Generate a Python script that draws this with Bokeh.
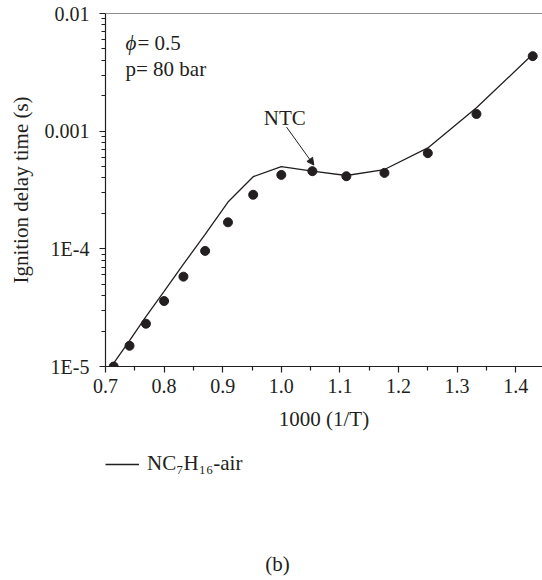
from bokeh.plotting import figure
from bokeh.layouts import column
from bokeh.models import (FixedTicker, PrintfTickFormatter, CustomJSTickFormatter, Span, Label,
                          Arrow, NormalHead, Legend, LegendItem, ColumnDataSource)
from bokeh.embed import file_html
from bokeh.resources import INLINE

# ---- data ----
inv_T = [0.714, 0.741, 0.769, 0.800, 0.833, 0.870, 0.909, 0.952, 1.000, 1.053, 1.111, 1.176, 1.250, 1.333, 1.429]
exp_tau = [1.0e-5, 1.5e-5, 2.31e-5, 3.6e-5, 5.8e-5, 9.6e-5, 1.68e-4, 2.88e-4, 4.25e-4, 4.57e-4, 4.14e-4,
           4.42e-4, 6.5e-4, 1.40e-3, 4.34e-3]
model_tau = [1.07e-5, 1.66e-5, 2.65e-5, 4.35e-5, 7.4e-5, 1.33e-4, 2.5e-4, 4.1e-4, 5.0e-4, 4.57e-4, 4.2e-4,
             4.72e-4, 7.2e-4, 1.58e-3, 4.5e-3]
x_ticks = [0.7, 0.8, 0.9, 1.0, 1.1, 1.2, 1.3, 1.4]
x_minor_ticks = [0.75, 0.85, 0.95, 1.05, 1.15, 1.25, 1.35, 1.45]
y_ticks = [1e-5, 1e-4, 1e-3, 1e-2]
y_tick_labels = ["1E-5", "1E-4", "0.001", "0.01"]
y_minor_ticks = [m * 10.0 ** e for e in (-5, -4, -3) for m in range(2, 10)]
series_label = "NC\u2087H\u2081\u2086-air"
panel_label = "(b)"

FONT = "Liberation Serif"
INK = "#231f20"
FS = "20px"
FS_LABEL = "21px"

p = figure(width=542, height=446, x_range=(0.7, 1.4457), y_range=(1e-5, 1e-2), y_axis_type="log",
           output_backend="svg", toolbar_location=None,
           min_border_left=105, min_border_right=0, min_border_top=13, min_border_bottom=80)
p.outline_line_color = None
p.grid.visible = False

# axes
p.xaxis.ticker = FixedTicker(ticks=x_ticks, minor_ticks=x_minor_ticks)
p.xaxis.formatter = PrintfTickFormatter(format="%.1f")
p.yaxis.ticker = FixedTicker(ticks=y_ticks, minor_ticks=y_minor_ticks)
p.yaxis.formatter = CustomJSTickFormatter(args=dict(tvals=y_ticks, tlabels=y_tick_labels), code="""
let best = 0, bd = 1e9;
for (let i = 0; i < tvals.length; i++) {
  const d = Math.abs(Math.log10(tick) - Math.log10(tvals[i]));
  if (d < bd) { bd = d; best = i; }
}
return tlabels[best];
""")
p.xaxis.axis_label = "1000 (1/T)"
p.yaxis.axis_label = "Ignition delay time (s)"
for ax in (p.xaxis, p.yaxis):
    ax.axis_line_color = INK
    ax.axis_line_width = 1.2
    ax.major_tick_line_color = INK
    ax.minor_tick_line_color = INK
    ax.major_tick_line_width = 1.2
    ax.minor_tick_line_width = 1.2
    ax.major_tick_in = 0
    ax.minor_tick_in = 0
    ax.major_label_text_font = FONT
    ax.major_label_text_font_size = FS
    ax.major_label_text_color = INK
    ax.axis_label_text_font = FONT
    ax.axis_label_text_font_size = FS_LABEL
    ax.axis_label_text_font_style = "normal"
    ax.axis_label_text_color = INK
p.xaxis.major_tick_out = 6
p.xaxis.minor_tick_out = 4
p.xaxis.major_label_standoff = 6
p.xaxis.axis_label_standoff = 11
p.yaxis.major_tick_out = 6
p.yaxis.minor_tick_out = 4
p.yaxis.major_label_standoff = 10
p.yaxis.axis_label_standoff = 9

# top border line
p.add_layout(Span(location=1e-2, dimension="width", line_color=INK, line_width=1.2))

src = ColumnDataSource(dict(x=inv_T, exp=exp_tau, model=model_tau))
p.line("x", "model", source=src, line_color=INK, line_width=1.3)
p.scatter("x", "exp", source=src, size=9, fill_color=INK, line_color=INK)

# annotations
p.add_layout(Label(x=0.7341, y=5.65e-3, text="\u03d5", text_font=FONT, text_font_size=FS_LABEL,
                   text_font_style="italic", text_color=INK, text_baseline="alphabetic"))
p.add_layout(Label(x=0.7546, y=5.65e-3, text="= 0.5", text_font=FONT, text_font_size=FS_LABEL,
                   text_color=INK, text_baseline="alphabetic"))
p.add_layout(Label(x=0.7341, y=3.35e-3, text="p= 80 bar", text_font=FONT, text_font_size=FS_LABEL,
                   text_color=INK, text_baseline="alphabetic"))
p.add_layout(Label(x=0.970, y=1.3e-3, text="NTC", text_font=FONT, text_font_size=FS_LABEL,
                   text_color=INK, text_baseline="alphabetic"))
p.add_layout(Arrow(end=NormalHead(size=7, fill_color=INK, line_color=INK, line_width=1),
                   x_start=1.0089, y_start=1.084e-3, x_end=1.0555, y_end=5.15e-4,
                   line_color=INK, line_width=1))

# lower strip (frame aligned with the chart's frame): legend and panel label
p2 = figure(width=542, height=134, x_range=(10, 11), y_range=(10, 11), output_backend="svg",
            toolbar_location=None, x_axis_location=None, y_axis_location=None,
            min_border_left=0, min_border_right=0, min_border_top=0, min_border_bottom=0)
p2.outline_line_color = None
p2.grid.visible = False
# same model series, outside this strip's ranges: only its legend swatch shows
legend_line = p2.line("x", "model", source=src, line_color=INK, line_width=1.3)
legend = Legend(items=[LegendItem(label=series_label, renderers=[legend_line])],
                location=(0, 104), orientation="horizontal", glyph_width=34, glyph_height=20,
                label_height=20, label_standoff=8, padding=1, margin=0, border_line_color=None,
                background_fill_alpha=0, label_text_font=FONT, label_text_font_size=FS_LABEL,
                label_text_color=INK)
p2.add_layout(legend)
p2.add_layout(Label(x=172, y=17, x_units="screen", y_units="screen", text=panel_label,
                    text_align="center", text_baseline="middle", text_font=FONT,
                    text_font_size=FS_LABEL, text_color=INK))

layout = column(p, p2, spacing=0)
open("out.html", "w").write(file_html(layout, INLINE))
